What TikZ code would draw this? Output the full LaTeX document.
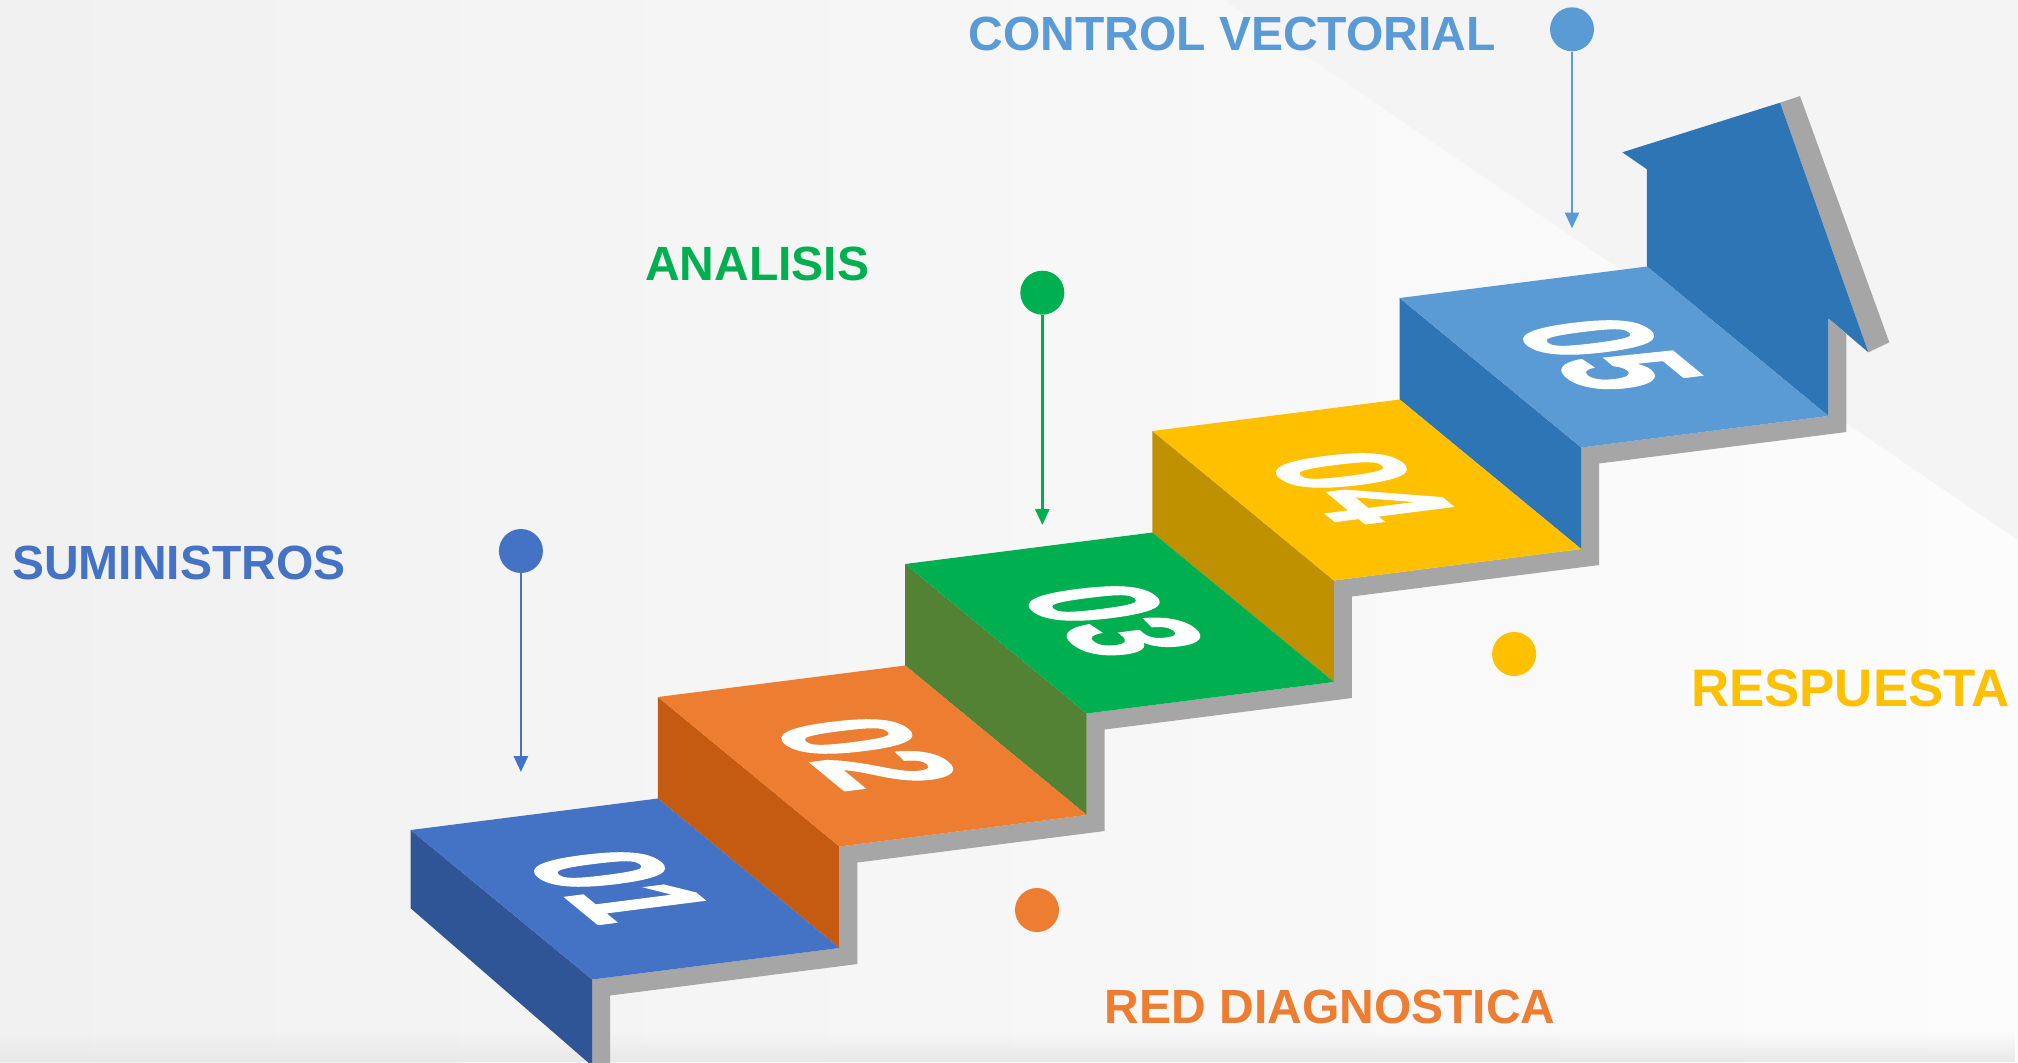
\documentclass[tikz,border=0pt]{standalone}
\usepackage{fontspec}
\setmainfont{Liberation Sans}
\newfontface\digitfont[FakeBold=1.6]{Liberation Sans Bold}
\usetikzlibrary{arrows.meta,fadings}
\definecolor{c1}{HTML}{4472C4}\definecolor{c1d}{HTML}{2F5597}
\definecolor{c2}{HTML}{ED7D31}\definecolor{c2d}{HTML}{C55A11}
\definecolor{c3}{HTML}{00B050}\definecolor{c3d}{HTML}{548235}
\definecolor{c4}{HTML}{FFC000}\definecolor{c4d}{HTML}{BF9000}
\definecolor{c5}{HTML}{5B9BD5}\definecolor{c5d}{HTML}{2E75B6}
\definecolor{band}{HTML}{A6A6A6}
\definecolor{bgL}{HTML}{F1F1F1}\definecolor{bgR}{HTML}{FCFCFC}\definecolor{bgT}{HTML}{F4F4F4}
\begin{document}
\begin{tikzpicture}[x=0.5pt,y=-0.5pt,
  lbl/.style={font=\fontsize{24pt}{28pt}\selectfont\bfseries, anchor=base, inner sep=0},
  dot/.style={circle, inner sep=0, minimum size=22pt},
  pin/.style={line width=1.35pt, -{Triangle[width=7pt,length=8pt]}},
  digit/.style={font=\fontsize{20pt}{24pt}\selectfont\digitfont, text=white, inner sep=0, transform shape},
  tread/.style={cm={1.79,-1.473,4.25,0.541,#1}}]
\useasboundingbox (0,0) rectangle (2018,1062);
\clip (0,0) rectangle (2018,1062);
% background
\shade[left color=bgL, right color=bgR] (0,0) rectangle (2018,1062);
\fill[bgT] (1224,0) -- (2018,0) -- (2018,540) -- cycle;
\fill[black!9, path fading=north] (0,1032) rectangle (2018,1062);
% grey band under the stair profile
\fill[band] (592.2,1100) -- (592.2,979.5) -- (839.45,948) -- (839.45,846.5) -- (1086.7,815) -- (1086.7,713.5) -- (1333.95,682) -- (1333.95,580.5) -- (1581.2,549) -- (1581.2,447.5) -- (1828.45,416) -- (1828.45,318.3) -- (1846.45,334.3) -- (1846.45,432) -- (1599.2,463.5) -- (1599.2,565) -- (1351.95,596.5) -- (1351.95,698) -- (1104.7,729.5) -- (1104.7,831) -- (857.45,862.5) -- (857.45,964) -- (610.2,995.5) -- (610.2,1100) -- cycle;
\fill[band] (1780,102.7) -- (1800,96) -- (1889.3,342.3) -- (1868.3,352.3) -- cycle;
% top arrow / back wall
\fill[c5d] (1646.95,266.5) -- (1646.95,169.3) -- (1622.3,152.3) -- (1780,102.7) -- (1868.3,352.3) -- (1828.45,318.3) -- (1828.45,416) -- cycle;
% step 1 side
\fill[c1d] (410.7,830) -- (592.2,979.5) -- (592.2,1066) -- (410.7,908.3) -- cycle;
% risers
\fill[c2d] (657.95,697) -- (839.45,846.5) -- (839.45,948) -- (657.95,798.5) -- cycle;
\fill[c3d] (905.2,564) -- (1086.7,713.5) -- (1086.7,815) -- (905.2,665.5) -- cycle;
\fill[c4d] (1152.45,431) -- (1333.95,580.5) -- (1333.95,682) -- (1152.45,532.5) -- cycle;
\fill[c5d] (1399.7,298) -- (1581.2,447.5) -- (1581.2,549) -- (1399.7,399.5) -- cycle;
% treads
\fill[c1] (410.7,830) -- (657.95,798.5) -- (839.45,948) -- (592.2,979.5) -- cycle;
\fill[c2] (657.95,697) -- (905.2,665.5) -- (1086.7,815) -- (839.45,846.5) -- cycle;
\fill[c3] (905.2,564) -- (1152.45,532.5) -- (1333.95,682) -- (1086.7,713.5) -- cycle;
\fill[c4] (1152.45,431) -- (1399.7,399.5) -- (1581.2,549) -- (1333.95,580.5) -- cycle;
\fill[c5] (1399.7,298) -- (1646.95,266.5) -- (1828.45,416) -- (1581.2,447.5) -- cycle;
% digits on treads
\coordinate (C0) at (619.4,886.0);
\coordinate (C1) at (866.7,753.0);
\coordinate (C2) at (1113.9,620.0);
\coordinate (C3) at (1361.2,487.0);
\coordinate (C4) at (1608.4,354.0);
\begin{scope}[tread=(C0)]\node[digit] (n1) at (0,0) {01};\end{scope}
\begin{scope}[tread=(C1)]\node[digit] (n2) at (0,0) {02};\end{scope}
\begin{scope}[tread=(C2)]\node[digit] (n3) at (0,0) {03};\end{scope}
\begin{scope}[tread=(C3)]\node[digit] (n4) at (0,0) {04};\end{scope}
\begin{scope}[tread=(C4)]\node[digit] (n5) at (0,0) {05};\end{scope}
% labels
\node[lbl, text=c5] (lab5) at (1232,50.7) {CONTROL VECTORIAL};
\node[lbl, text=c1] (lab1) at (178.9,579.3) {SUMINISTROS};
\node[lbl, text=c3] (lab3) at (757.2,280.7) {ANALISIS};
\node[lbl, text=c4, font=\fontsize{26.4pt}{30pt}\selectfont\bfseries] (lab4) at (1850.6,706) {RESPUESTA};
\node[lbl, text=c2] (lab2) at (1330.2,1023.3) {RED DIAGNOSTICA};
% dots and pins
\node[dot, fill=c1] (d1) at (520.9,551) {};
\node[dot, fill=c3] (d3) at (1042.3,292.7) {};
\node[dot, fill=c5] (d5) at (1572,29.3) {};
\node[dot, fill=c4] (d4) at (1514.1,654) {};
\node[dot, fill=c2] (d2) at (1037,910) {};
\coordinate (t1) at (520.9,772);
\coordinate (t3) at (1042.3,525);
\coordinate (t5) at (1572,228.5);
\draw[pin, c1] (d1.south) -- (t1);
\draw[pin, c3] (d3.south) -- (t3);
\draw[pin, c5] (d5.south) -- (t5);
\end{tikzpicture}
\end{document}
